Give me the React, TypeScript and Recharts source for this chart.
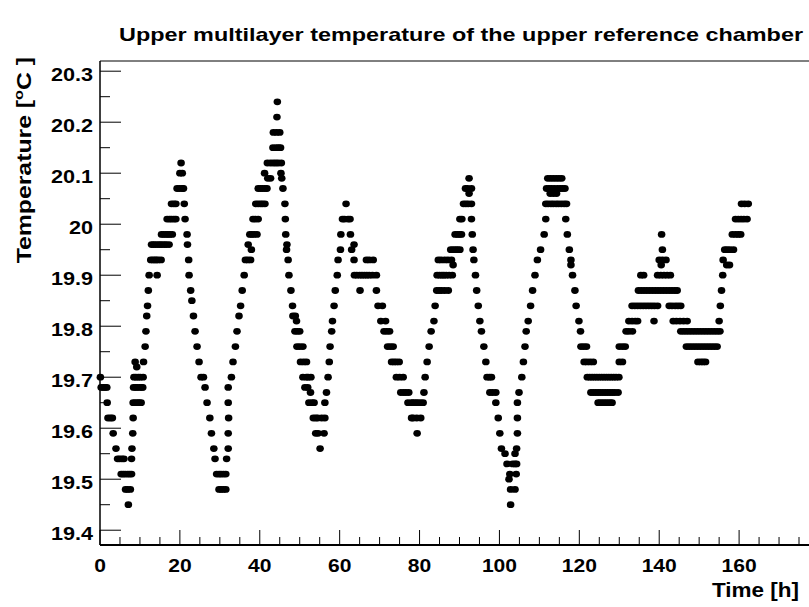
import { Scatter, ScatterChart, XAxis, YAxis } from 'recharts'

// readings: [time in h, temperature in °C]
const firstDay: [number, number][] = [
  [0.1, 19.7], [0.3, 19.68], [0.8, 19.68], [1.3, 19.68], [1.7, 19.68], [1.8, 19.65], [2.0, 19.62], [2.6, 19.62],
  [3.1, 19.62], [3.3, 19.59], [4.0, 19.56], [4.4, 19.54], [4.9, 19.54], [5.5, 19.54], [6.0, 19.54], [5.3, 19.51],
  [5.8, 19.51], [6.3, 19.51], [6.9, 19.51], [7.4, 19.51], [7.9, 19.51], [6.4, 19.48], [6.9, 19.48], [7.6, 19.48],
  [7.1, 19.45], [7.9, 19.54], [8.0, 19.56], [8.2, 19.59], [8.3, 19.62], [8.3, 19.65], [8.8, 19.65], [9.4, 19.65],
  [9.8, 19.65], [10.3, 19.65], [8.4, 19.68], [8.9, 19.68], [9.3, 19.68], [9.9, 19.68], [10.4, 19.68], [10.7, 19.68],
  [8.5, 19.7], [9.0, 19.7], [9.6, 19.7], [10.1, 19.7], [10.8, 19.7], [8.8, 19.73], [9.2, 19.72], [10.9, 19.73],
  [11.3, 19.76], [11.5, 19.79], [11.7, 19.82], [11.9, 19.84], [12.1, 19.87], [12.3, 19.9], [14.3, 19.9],
  [12.7, 19.93], [13.2, 19.93], [13.7, 19.93], [14.1, 19.93], [14.6, 19.93], [15.3, 19.93], [12.9, 19.96],
  [13.4, 19.96], [13.9, 19.96], [14.5, 19.96], [15.0, 19.96], [15.5, 19.96], [16.1, 19.96], [16.6, 19.96],
  [17.3, 19.96], [15.4, 19.98], [15.9, 19.98], [16.5, 19.98], [17.0, 19.98], [17.5, 19.98], [18.1, 19.98],
  [16.8, 20.01], [17.4, 20.01], [17.9, 20.01], [18.5, 20.01], [19.0, 20.01], [17.9, 20.04], [18.5, 20.04],
  [19.0, 20.04], [19.3, 20.07], [19.9, 20.07], [20.6, 20.07], [20.9, 20.07], [20.0, 20.1], [20.6, 20.1], [20.3, 20.12],
  [21.1, 20.04], [21.3, 20.01], [21.8, 19.98], [21.9, 19.96], [22.2, 19.93], [22.3, 19.9], [22.7, 19.87],
  [23.0, 19.85], [23.4, 19.82], [23.8, 19.79], [24.3, 19.76], [24.8, 19.73], [25.3, 19.7],
]

const secondDay: [number, number][] = [
  [25.9, 19.7], [26.3, 19.68], [26.8, 19.65], [27.5, 19.62], [27.9, 19.59], [28.5, 19.56], [28.8, 19.54],
  [29.2, 19.51], [29.8, 19.51], [30.3, 19.51], [30.9, 19.51], [31.5, 19.51], [29.8, 19.48], [30.3, 19.48],
  [30.9, 19.48], [31.5, 19.48], [31.7, 19.54], [32.1, 19.56], [32.1, 19.59], [32.2, 19.62], [32.1, 19.65],
  [32.1, 19.68], [32.9, 19.7], [33.3, 19.73], [33.9, 19.76], [34.3, 19.79], [34.8, 19.82], [35.2, 19.84],
  [35.6, 19.87], [36.1, 19.9], [36.4, 19.93], [37.0, 19.93], [37.7, 19.93], [37.1, 19.96], [37.9, 19.95],
  [37.5, 19.98], [38.0, 19.98], [38.6, 19.98], [39.3, 19.98], [38.3, 20.01], [38.9, 20.01], [39.6, 20.01],
  [39.0, 20.04], [39.6, 20.04], [40.2, 20.04], [40.7, 20.04], [41.3, 20.04], [39.6, 20.07], [40.2, 20.07],
  [40.7, 20.07], [41.3, 20.07], [41.8, 20.07], [41.2, 20.1], [42.0, 20.09], [42.7, 20.09], [41.9, 20.12],
  [42.7, 20.12], [43.4, 20.12], [44.0, 20.12], [44.6, 20.12], [45.4, 20.12], [43.3, 20.15], [44.1, 20.15],
  [44.7, 20.15], [45.2, 20.15], [43.4, 20.18], [44.2, 20.18], [45.0, 20.18], [44.3, 20.21], [44.4, 20.24],
  [45.3, 20.1], [45.5, 20.09], [45.8, 20.07], [46.3, 20.04], [46.4, 20.01], [46.5, 19.98], [46.8, 19.96],
  [46.7, 19.95], [47.1, 19.93], [47.3, 19.9], [47.8, 19.87], [48.2, 19.84], [48.3, 19.82], [48.9, 19.82],
  [49.2, 19.81], [48.8, 19.79], [49.4, 19.79], [50.0, 19.79], [49.3, 19.76], [50.0, 19.76], [50.8, 19.76],
  [50.2, 19.73], [51.0, 19.73], [51.7, 19.73], [50.8, 19.7], [51.7, 19.7], [51.3, 19.68], [52.0, 19.68],
]

const thirdDay: [number, number][] = [
  [52.3, 19.65], [52.1, 19.7], [52.8, 19.7], [52.7, 19.67], [53.1, 19.65], [53.6, 19.65], [53.4, 19.62],
  [54.0, 19.62], [54.5, 19.62], [55.5, 19.62], [56.3, 19.62], [54.0, 19.59], [54.6, 19.59], [56.1, 19.59],
  [55.1, 19.56], [56.3, 19.65], [56.7, 19.67], [57.1, 19.7], [57.4, 19.73], [57.6, 19.76], [58.0, 19.79],
  [58.2, 19.81], [58.6, 19.84], [58.9, 19.87], [59.4, 19.9], [59.6, 19.93], [60.2, 19.95], [60.3, 19.98],
  [60.7, 20.01], [61.2, 20.01], [61.6, 20.04], [62.1, 20.01], [62.6, 20.01], [62.7, 19.98], [63.0, 19.95],
  [63.6, 19.96], [63.6, 19.93], [63.7, 19.9], [64.3, 19.9], [65.0, 19.9], [65.6, 19.9], [66.2, 19.9],
  [66.8, 19.9], [67.4, 19.9], [68.2, 19.9], [69.2, 19.9], [65.1, 19.87], [66.7, 19.93], [67.4, 19.93],
  [68.4, 19.93], [69.2, 19.87], [69.6, 19.84], [70.7, 19.84], [70.3, 19.81], [71.5, 19.81], [71.1, 19.79],
  [71.8, 19.79], [72.5, 19.79], [72.0, 19.76], [72.7, 19.76], [73.4, 19.76], [73.0, 19.73], [73.6, 19.73],
  [74.2, 19.73], [74.9, 19.73], [74.2, 19.7], [75.0, 19.7], [75.9, 19.7], [75.3, 19.67], [76.0, 19.67],
  [76.6, 19.67], [77.3, 19.67], [77.1, 19.65], [78.0, 19.65], [78.0, 19.62],
]

const fourthDay: [number, number][] = [
  [78.4, 19.65], [79.0, 19.65], [79.5, 19.65], [80.2, 19.65], [80.9, 19.65], [78.4, 19.62], [79.3, 19.62],
  [80.3, 19.62], [79.4, 19.59], [81.1, 19.67], [81.4, 19.7], [81.9, 19.73], [82.4, 19.76], [82.9, 19.79],
  [83.6, 19.81], [83.9, 19.84], [84.3, 19.87], [84.9, 19.87], [85.5, 19.87], [86.3, 19.87], [87.2, 19.87],
  [84.4, 19.9], [85.0, 19.9], [85.6, 19.9], [86.1, 19.9], [86.7, 19.9], [87.4, 19.9], [88.2, 19.9],
  [84.7, 19.93], [85.4, 19.93], [86.3, 19.93], [87.1, 19.93], [88.0, 19.93], [88.4, 19.92], [87.8, 19.95],
  [88.4, 19.95], [89.0, 19.95], [89.5, 19.95], [90.1, 19.95], [88.9, 19.98], [89.5, 19.98], [90.0, 19.98],
  [90.5, 19.98], [90.1, 20.01], [90.6, 20.01], [91.0, 20.04], [91.6, 20.04], [92.2, 20.04], [91.5, 20.07],
  [92.0, 20.07], [92.4, 20.06], [92.4, 20.09], [93.0, 20.07], [93.0, 20.04], [93.0, 20.01], [93.2, 19.98],
  [93.4, 19.95], [93.6, 19.93], [94.0, 19.9], [94.3, 19.87], [94.7, 19.84], [95.1, 19.81], [95.5, 19.79],
  [96.1, 19.76], [96.6, 19.73], [96.9, 19.7], [97.5, 19.7], [98.0, 19.7], [97.6, 19.67], [98.3, 19.67],
  [99.1, 19.67], [99.1, 19.65], [99.7, 19.62], [100.1, 19.59], [100.5, 19.56], [101.4, 19.55], [101.9, 19.53],
  [102.6, 19.51], [102.4, 19.5], [102.8, 19.48], [102.8, 19.45], [103.3, 19.53], [103.9, 19.55], [103.9, 19.53],
]

const fifthDay: [number, number][] = [
  [104.3, 19.56], [104.3, 19.53], [104.2, 19.51], [103.9, 19.48], [104.5, 19.59], [104.5, 19.62],
  [104.5, 19.65], [104.9, 19.67], [105.6, 19.7], [106.0, 19.73], [106.4, 19.76], [106.7, 19.79],
  [107.2, 19.81], [107.8, 19.84], [108.3, 19.87], [108.9, 19.9], [109.5, 19.93], [110.3, 19.95],
  [111.2, 19.98], [111.6, 20.01], [111.6, 20.04], [112.2, 20.04], [112.9, 20.04], [113.5, 20.04],
  [114.2, 20.04], [114.8, 20.04], [115.5, 20.04], [116.2, 20.04], [116.8, 20.04], [112.7, 20.06],
  [113.5, 20.06], [114.3, 20.06], [111.8, 20.07], [112.4, 20.07], [113.0, 20.07], [113.7, 20.07],
  [114.5, 20.07], [115.2, 20.07], [115.8, 20.07], [116.4, 20.07], [112.1, 20.09], [112.8, 20.09],
  [113.5, 20.09], [114.2, 20.09], [114.9, 20.09], [115.6, 20.09], [116.6, 20.01], [117.0, 19.98],
  [117.5, 19.95], [117.9, 19.93], [117.9, 19.92], [118.3, 19.9], [118.9, 19.87], [119.2, 19.84],
  [119.9, 19.81], [120.3, 19.79], [120.4, 19.76], [121.1, 19.76], [121.8, 19.76], [121.2, 19.73],
  [121.9, 19.73], [122.7, 19.73], [123.5, 19.73], [122.0, 19.7], [122.6, 19.7], [123.2, 19.7], [123.8, 19.7],
  [124.4, 19.7], [125.0, 19.7], [125.6, 19.7], [126.2, 19.7], [126.8, 19.7], [127.4, 19.7], [128.0, 19.7],
  [128.6, 19.7], [129.2, 19.7], [129.9, 19.7], [122.9, 19.67], [123.5, 19.67], [124.1, 19.67], [124.7, 19.67],
  [125.3, 19.67], [125.9, 19.67], [126.5, 19.67], [127.1, 19.67], [127.7, 19.67], [128.3, 19.67],
  [128.9, 19.67], [129.7, 19.67], [124.7, 19.65], [125.3, 19.65], [125.9, 19.65], [126.5, 19.65],
  [127.1, 19.65], [127.7, 19.65], [128.2, 19.65], [130.0, 19.73], [130.8, 19.73], [130.0, 19.76],
  [130.8, 19.76], [131.5, 19.76], [131.7, 19.79], [132.4, 19.79], [133.3, 19.79], [132.4, 19.81],
  [133.2, 19.81], [134.0, 19.81], [134.6, 19.81],
]

const sixthDay: [number, number][] = [
  [133.2, 19.84], [133.9, 19.84], [134.6, 19.84], [135.3, 19.84], [136.0, 19.84], [136.7, 19.84],
  [137.4, 19.84], [138.1, 19.84], [138.8, 19.84], [139.6, 19.84], [135.4, 19.9], [136.1, 19.9],
  [139.6, 19.9], [140.4, 19.9], [141.2, 19.9], [142.0, 19.9], [142.8, 19.9], [134.8, 19.87], [135.5, 19.87],
  [136.2, 19.87], [136.9, 19.87], [137.6, 19.87], [138.3, 19.87], [139.0, 19.87], [139.7, 19.87],
  [140.4, 19.87], [141.1, 19.87], [141.8, 19.87], [142.5, 19.87], [143.2, 19.87], [143.9, 19.87],
  [144.5, 19.87], [142.5, 19.84], [143.2, 19.84], [144.0, 19.84], [144.7, 19.84], [145.4, 19.84],
  [140.0, 19.93], [140.8, 19.93], [141.7, 19.93], [140.5, 19.92], [140.8, 19.95], [140.6, 19.98],
  [138.7, 19.81], [143.5, 19.81], [144.3, 19.81], [145.2, 19.81], [146.1, 19.81], [147.0, 19.81],
  [145.4, 19.79], [146.1, 19.79], [146.8, 19.79], [147.5, 19.79], [148.2, 19.79], [148.9, 19.79],
  [149.6, 19.79], [150.3, 19.79], [151.0, 19.79], [151.7, 19.79], [152.4, 19.79], [153.1, 19.79],
  [153.8, 19.79], [154.5, 19.79], [155.2, 19.79], [146.8, 19.76], [147.5, 19.76], [148.2, 19.76],
  [148.9, 19.76], [149.6, 19.76], [150.3, 19.76], [151.0, 19.76], [151.7, 19.76], [152.4, 19.76],
  [153.1, 19.76], [153.8, 19.76], [154.5, 19.76], [149.7, 19.73], [150.4, 19.73], [151.0, 19.73],
  [151.6, 19.73], [155.0, 19.81], [155.3, 19.84], [155.6, 19.87], [155.9, 19.9], [156.0, 19.93],
  [156.9, 19.92], [157.6, 19.92], [156.4, 19.95], [157.0, 19.95], [157.7, 19.95], [158.6, 19.95],
  [158.3, 19.98], [159.1, 19.98], [159.8, 19.98], [160.4, 19.98], [159.1, 20.01], [159.8, 20.01],
  [160.5, 20.01], [161.2, 20.01], [162.0, 20.01], [160.6, 20.04], [161.4, 20.04], [162.3, 20.04],
]

const timeTicks = [0, 5, 10, 15, 20, 25, 30, 35, 40, 45, 50, 55, 60, 65, 70, 75, 80, 85, 90, 95, 100, 105, 110, 115, 120, 125, 130, 135, 140, 145, 150, 155, 160, 165, 170, 175]
const tempTicks = [19.4, 19.45, 19.5, 19.55, 19.6, 19.65, 19.7, 19.75, 19.8, 19.85, 19.9, 19.95, 20, 20.05, 20.1, 20.15, 20.2, 20.25, 20.3]

const readings = [...firstDay, ...secondDay, ...thirdDay, ...fourthDay, ...fifthDay, ...sixthDay].map(
  ([time, temp]) => ({ time, temp }),
)

const font = '"Liberation Sans", Arial, Helvetica, sans-serif'

function TimeTick({ x, y, payload }: any) {
  const value = payload.value as number
  const isMajor = value % 20 === 0
  return (
    <g>
      <line x1={x} x2={x} y1={y} y2={y - (isMajor ? 15 : 8)} stroke="#000" strokeWidth={1} />
      {isMajor && (
        <text
          transform={`translate(${x},${y + 27}) scale(1.17,1)`}
          textAnchor="middle"
          fontFamily={font}
          fontWeight="bold"
          fontSize={18}
          fill="#000"
        >
          {value}
        </text>
      )}
    </g>
  )
}

function TempTick({ x, y, payload }: any) {
  const value = payload.value as number
  const isMajor = Math.abs(value * 10 - Math.round(value * 10)) < 1e-6
  return (
    <g>
      <line x1={x} x2={x + (isMajor ? 21 : 10)} y1={y} y2={y} stroke="#000" strokeWidth={1} />
      {isMajor && (
        <text
          transform={`translate(${x - 7},${y + 10}) scale(1.2,1)`}
          textAnchor="end"
          fontFamily={font}
          fontWeight="bold"
          fontSize={18}
          fill="#000"
        >
          {String(Number(value.toFixed(1)))}
        </text>
      )}
    </g>
  )
}

function Dot({ cx, cy }: any) {
  return <ellipse cx={cx} cy={cy} rx={3.8} ry={3.4} fill="#000" />
}

export default function App() {
  return (
    <div style={{ position: 'absolute', left: 0, top: 0, width: 809, height: 607, background: '#fff' }}>
      <ScatterChart width={809} height={607} margin={{ top: 60, right: 0, bottom: 0, left: 0 }}>
        <XAxis
          xAxisId="bottom"
          dataKey="time"
          type="number"
          domain={[0, 177.5]}
          ticks={timeTicks}
          interval={0}
          height={62}
          tickSize={0}
          tickMargin={0}
          tickLine={false}
          tick={<TimeTick />}
          axisLine={{ stroke: '#000', strokeWidth: 2 }}
        />
        <XAxis
          xAxisId="top"
          orientation="top"
          dataKey="time"
          type="number"
          domain={[0, 177.5]}
          height={1}
          tick={false}
          tickLine={false}
          axisLine={{ stroke: '#000', strokeWidth: 1 }}
        />
        <YAxis
          dataKey="temp"
          type="number"
          domain={[19.371, 20.32]}
          ticks={tempTicks}
          interval={0}
          width={100}
          tickSize={0}
          tickMargin={0}
          tickLine={false}
          tick={<TempTick />}
          axisLine={{ stroke: '#000', strokeWidth: 1.5 }}
        />
        <Scatter xAxisId="bottom" data={readings} shape={<Dot />} isAnimationActive={false} />
      </ScatterChart>
      <svg width={809} height={607} style={{ position: 'absolute', left: 0, top: 0, pointerEvents: 'none' }}>
        <text
          x={461}
          y={41}
          textAnchor="middle"
          textLength={684}
          lengthAdjust="spacingAndGlyphs"
          fontFamily={font}
          fontWeight="bold"
          fontSize={19}
          fill="#000"
        >
          Upper multilayer temperature of the upper reference chamber
        </text>
        <text
          x={799}
          y={597}
          textAnchor="end"
          textLength={87}
          lengthAdjust="spacingAndGlyphs"
          fontFamily={font}
          fontWeight="bold"
          fontSize={20}
          fill="#000"
        >
          Time [h]
        </text>
        <text
          transform="translate(31,57) rotate(-90) scale(1.24,1)"
          textAnchor="end"
          fontFamily={font}
          fontWeight="bold"
          fontSize={20}
          fill="#000"
        >
          Temperature [<tspan dy={-8} fontSize={13}>o</tspan>
          <tspan dy={8}>C ]</tspan>
        </text>
      </svg>
    </div>
  )
}
